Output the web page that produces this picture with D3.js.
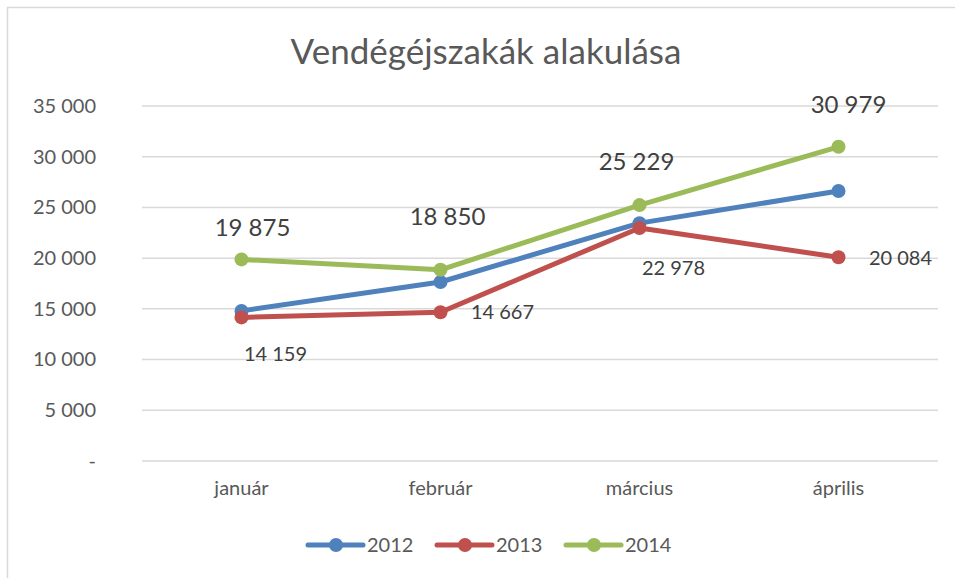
<!DOCTYPE html>
<html>
<head>
<meta charset="utf-8">
<title>Vendégéjszakák alakulása</title>
<script src="https://cdn.jsdelivr.net/npm/d3@7"></script>
<style>
  body { margin: 0; background: #fff; }
  text { font-family: Lato, "Open Sans", sans-serif; }
</style>
</head>
<body>
<div id="chart"></div>
<script>
// data
var months = ["január", "február", "március", "április"];
var years = ["2012", "2013", "2014"];
var values2012 = [14800, 17650, 23450, 26620];
var values2013 = [14159, 14667, 22978, 20084];
var values2014 = [19875, 18850, 25229, 30979];
var yTicks = [0, 5000, 10000, 15000, 20000, 25000, 30000, 35000];
var colors = ["#4F81BD", "#C0504D", "#9BBB59"];

// label offsets (layout only)
var labelOffsets2013 = [[34, 37], [62, 0], [34, 40], [62, 1]];
var labelOffsets2014 = [[11, -32], [7, -53], [-3, -44], [10, -42]];

var width = 955, height = 578;
var svg = d3.select("#chart").append("svg")
  .attr("width", width)
  .attr("height", height);

// chart border
svg.append("rect")
  .attr("x", 7.5).attr("y", 7.5)
  .attr("width", 960).attr("height", 590)
  .attr("fill", "none")
  .attr("stroke", "#d9d9d9")
  .attr("stroke-width", 1.5);

svg.append("text")
  .attr("x", 486).attr("y", 64)
  .attr("text-anchor", "middle")
  .attr("font-size", 35)
  .attr("fill", "#595959")
  .text("Vendégéjszakák alakulása");

var plotLeft = 142, plotRight = 938, plotTop = 106, plotBottom = 461;

var x = d3.scaleBand().domain(months).range([plotLeft, plotRight]);
var y = d3.scaleLinear().domain([0, 35000]).range([plotBottom, plotTop]);

var fmt = function(v) {
  if (v === 0) return "-";
  return d3.format(",")(v).replace(/,/g, " ");
};

// gridlines
svg.append("g")
  .selectAll("line")
  .data(yTicks)
  .enter().append("line")
  .attr("x1", plotLeft).attr("x2", plotRight)
  .attr("y1", function(d) { return y(d); })
  .attr("y2", function(d) { return y(d); })
  .attr("stroke", "#d9d9d9")
  .attr("stroke-width", 1.5);

// y axis labels
var yAxis = svg.append("g")
  .attr("transform", "translate(" + (plotLeft - 46) + ",0)")
  .call(d3.axisLeft(y).tickValues(yTicks).tickFormat(fmt).tickSize(0).tickPadding(0));
yAxis.select(".domain").remove();
yAxis.selectAll("text")
  .attr("font-family", "Lato, sans-serif")
  .attr("font-size", 20)
  .attr("fill", "#595959");

// x axis labels
var xAxis = svg.append("g")
  .attr("transform", "translate(0," + plotBottom + ")")
  .call(d3.axisBottom(x).tickSize(0).tickPadding(20));
xAxis.select(".domain").remove();
xAxis.selectAll("text")
  .attr("font-family", "Lato, sans-serif")
  .attr("font-size", 20)
  .attr("fill", "#595959");

var cx = function(m) { return x(m) + x.bandwidth() / 2; };
var series = [values2012, values2013, values2014];

var line = d3.line()
  .x(function(d, i) { return cx(months[i]); })
  .y(function(d) { return y(d); });

series.forEach(function(vals, s) {
  svg.append("path")
    .datum(vals)
    .attr("d", line)
    .attr("fill", "none")
    .attr("stroke", colors[s])
    .attr("stroke-width", 5)
    .attr("stroke-linejoin", "round")
    .attr("stroke-linecap", "round");
  svg.append("g")
    .selectAll("circle")
    .data(vals)
    .enter().append("circle")
    .attr("cx", function(d, i) { return cx(months[i]); })
    .attr("cy", function(d) { return y(d); })
    .attr("r", 7)
    .attr("fill", colors[s]);
});

// data labels
svg.append("g")
  .selectAll("text")
  .data(values2013)
  .enter().append("text")
  .attr("x", function(d, i) { return cx(months[i]) + labelOffsets2013[i][0]; })
  .attr("y", function(d, i) { return y(d) + labelOffsets2013[i][1]; })
  .attr("dy", "0.35em")
  .attr("text-anchor", "middle")
  .attr("font-size", 20)
  .attr("fill", "#404040")
  .text(fmt);

svg.append("g")
  .selectAll("text")
  .data(values2014)
  .enter().append("text")
  .attr("x", function(d, i) { return cx(months[i]) + labelOffsets2014[i][0]; })
  .attr("y", function(d, i) { return y(d) + labelOffsets2014[i][1]; })
  .attr("dy", "0.35em")
  .attr("text-anchor", "middle")
  .attr("font-size", 24)
  .attr("fill", "#404040")
  .text(fmt);

// legend
var legendX = [308, 437, 566];
var legend = svg.append("g");
years.forEach(function(yr, i) {
  var g = legend.append("g").attr("transform", "translate(" + legendX[i] + ",545)");
  g.append("line")
    .attr("x1", 0).attr("x2", 55)
    .attr("stroke", colors[i])
    .attr("stroke-width", 5)
    .attr("stroke-linecap", "round");
  g.append("circle")
    .attr("cx", 28).attr("r", 7)
    .attr("fill", colors[i]);
  g.append("text")
    .attr("x", 59).attr("dy", "0.35em")
    .attr("font-size", 20)
    .attr("fill", "#595959")
    .text(yr);
});
</script>
</body>
</html>
